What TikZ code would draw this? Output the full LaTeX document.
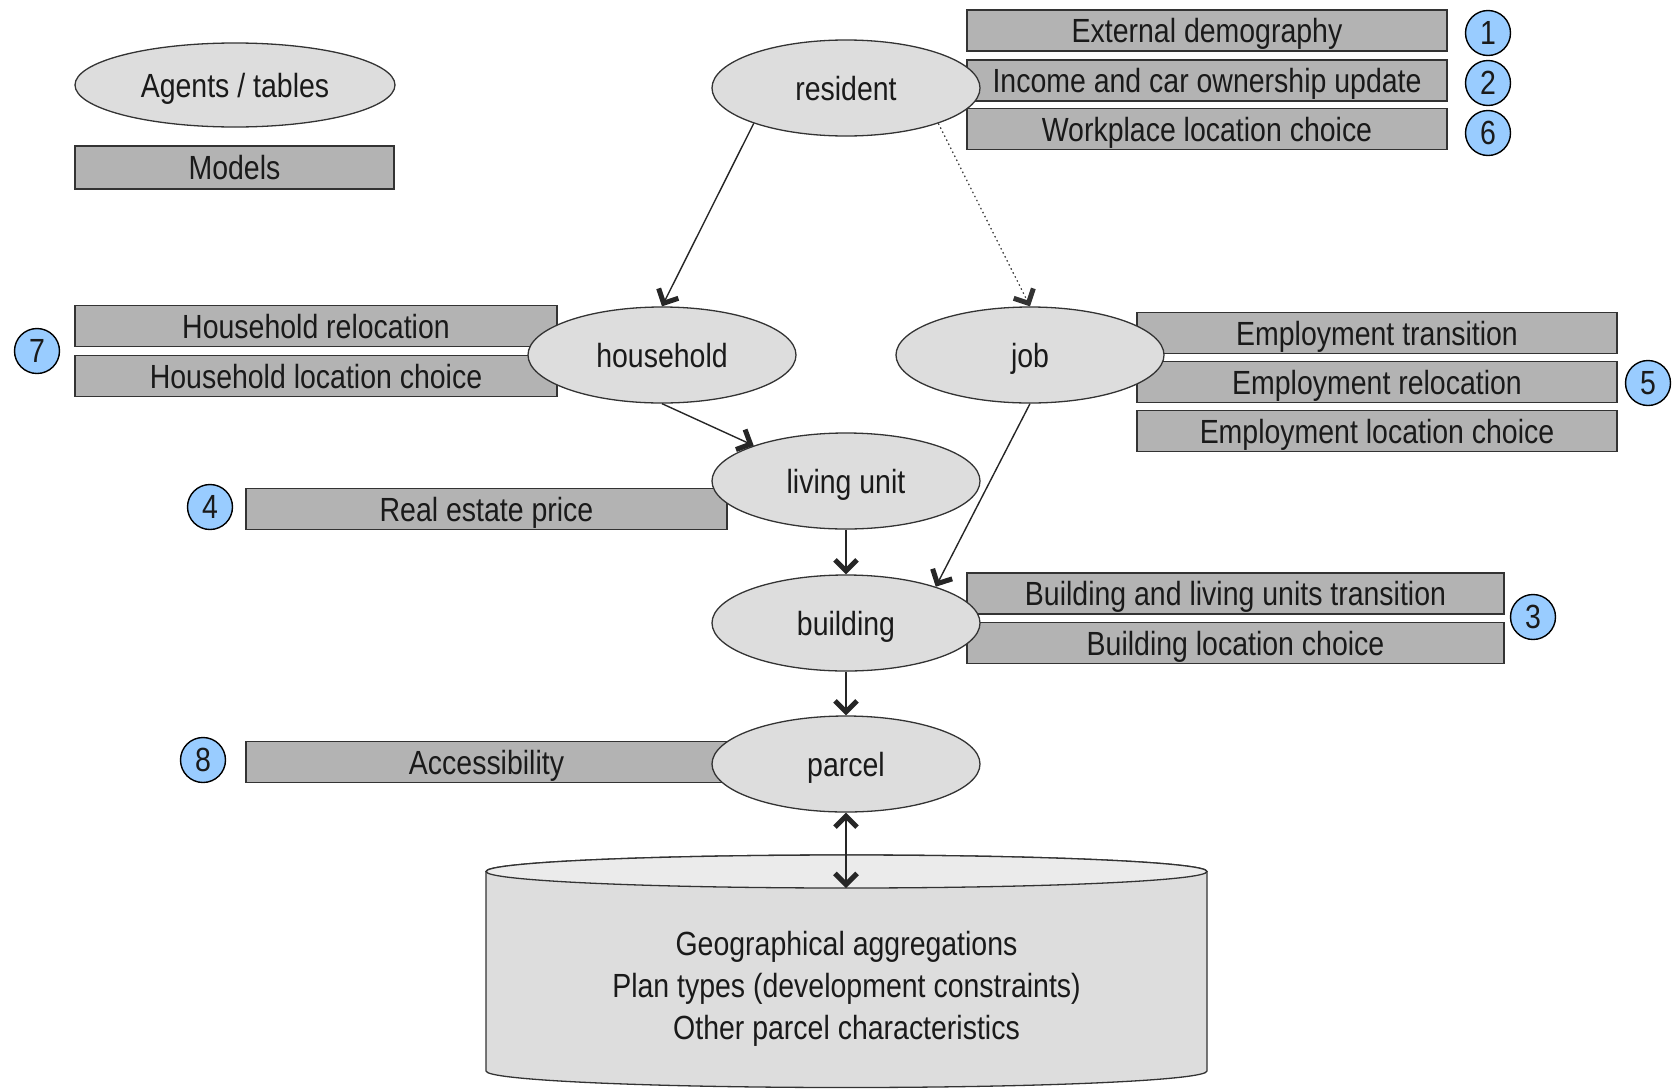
\documentclass[tikz,border=0pt]{standalone}
\usepackage{fontspec}
\setmainfont{Liberation Sans}[FakeStretch=0.85]
\usetikzlibrary{shapes.geometric,arrows.meta}
\definecolor{boxfill}{HTML}{B3B3B3}
\definecolor{ellfill}{HTML}{DDDDDD}
\definecolor{badgefill}{HTML}{99CCFF}
\definecolor{txt}{HTML}{1A1A1A}
\definecolor{bord}{HTML}{333333}
\tikzset{
  every node/.style={font=\fontsize{33.5}{41.7}\selectfont, text=txt, inner sep=0pt},
  agent/.style={ellipse, draw=bord, line width=1.3pt, fill=ellfill, minimum width=268pt, minimum height=96pt, text height=30pt, text depth=6pt},
  model/.style={rectangle, draw=bord, line width=1.7pt, fill=boxfill, minimum height=41pt, text height=30pt, text depth=6pt},
  badge/.style={circle, draw=black, line width=1.4pt, fill=badgefill, minimum size=45pt},
  tipb/.tip={Straight Barb[length=11pt,width=22pt,line width=5pt 0]},
  conn/.style={line width=1.4pt, draw=black!85, -tipb},
  dconn/.style={line width=1.4pt, draw=black!85, tipb-tipb},
  dotconn/.style={line width=1.2pt, draw=black!80, dash pattern=on 1.5pt off 3pt, -tipb}
}
\begin{document}
\begin{tikzpicture}[x=1pt,y=-1pt]
\useasboundingbox (0,0) rectangle (1675,1090);

% legend
\node[agent, minimum width=320pt, minimum height=84pt] (legag) at (235,85) {Agents / tables};
\node[model, minimum width=319pt, minimum height=43pt] (legmod) at (234.5,167.5) {Models};

% model boxes
\node[model, minimum width=480pt] (extdem) at (1207,30.5) {External demography};
\node[model, minimum width=480pt] (income) at (1207,80.5) {Income and car ownership update};
\node[model, minimum width=480pt] (workloc) at (1207,129) {Workplace location choice};
\node[model, minimum width=482pt] (hhrel) at (316,326) {Household relocation};
\node[model, minimum width=482pt] (hhloc) at (316,376) {Household location choice};
\node[model, minimum width=480pt] (emptr) at (1377,333) {Employment transition};
\node[model, minimum width=480pt] (emprel) at (1377,382) {Employment relocation};
\node[model, minimum width=480pt] (emploc) at (1377,431) {Employment location choice};
\node[model, minimum width=481pt] (realest) at (486.5,509) {Real estate price};
\node[model, minimum width=537pt] (bldtr) at (1235.5,593.5) {Building and living units transition};
\node[model, minimum width=537pt] (bldloc) at (1235.5,643) {Building location choice};
\node[model, minimum width=481pt] (access) at (486.5,762) {Accessibility};

% badges
\node[badge] (b1) at (1488,33) {1};
\node[badge] (b2) at (1488,83) {2};
\node[badge] (b6) at (1488,133) {6};
\node[badge] (b7) at (37,351) {7};
\node[badge] (b5) at (1648,383) {5};
\node[badge] (b4) at (210,507) {4};
\node[badge] (b3) at (1533,617) {3};
\node[badge] (b8) at (203,760) {8};

% agents
\node[agent] (resident) at (846,88) {resident};
\node[agent] (household) at (662,355) {household};
\node[agent] (job) at (1030,355) {job};
\node[agent] (living) at (846,481) {living unit};
\node[agent] (building) at (846,623) {building};
\node[agent] (parcel) at (846,764) {parcel};

% database cylinder
\path[draw=bord, line width=1.3pt, fill=ellfill]
  (486,871.5) -- (486,1071) arc[start angle=180, end angle=0, x radius=360.5, y radius=16.5]
  -- (1207,871.5) arc[start angle=0, end angle=-180, x radius=360.5, y radius=16.5] -- cycle;
\path[draw=bord, line width=1.3pt, fill=black!8]
  (846.5,871.5) ellipse[x radius=360.5, y radius=16.5];
\coordinate (dbtop) at (846,888);
\node[align=center] (dbtext) at (846.5,989) {Geographical aggregations\\Plan types (development constraints)\\Other parcel characteristics};

% connectors
\draw[conn] (resident.201) -- (household.north);
\draw[dotconn] (resident.339) -- (job.north);
\draw[conn] (household.south) -- (living.159);
\draw[conn] (job.south) -- (building.22);
\draw[conn] (living.south) -- (building.north);
\draw[conn] (building.south) -- (parcel.north);
\draw[dconn] (parcel.south) -- (dbtop);
\end{tikzpicture}
\end{document}
